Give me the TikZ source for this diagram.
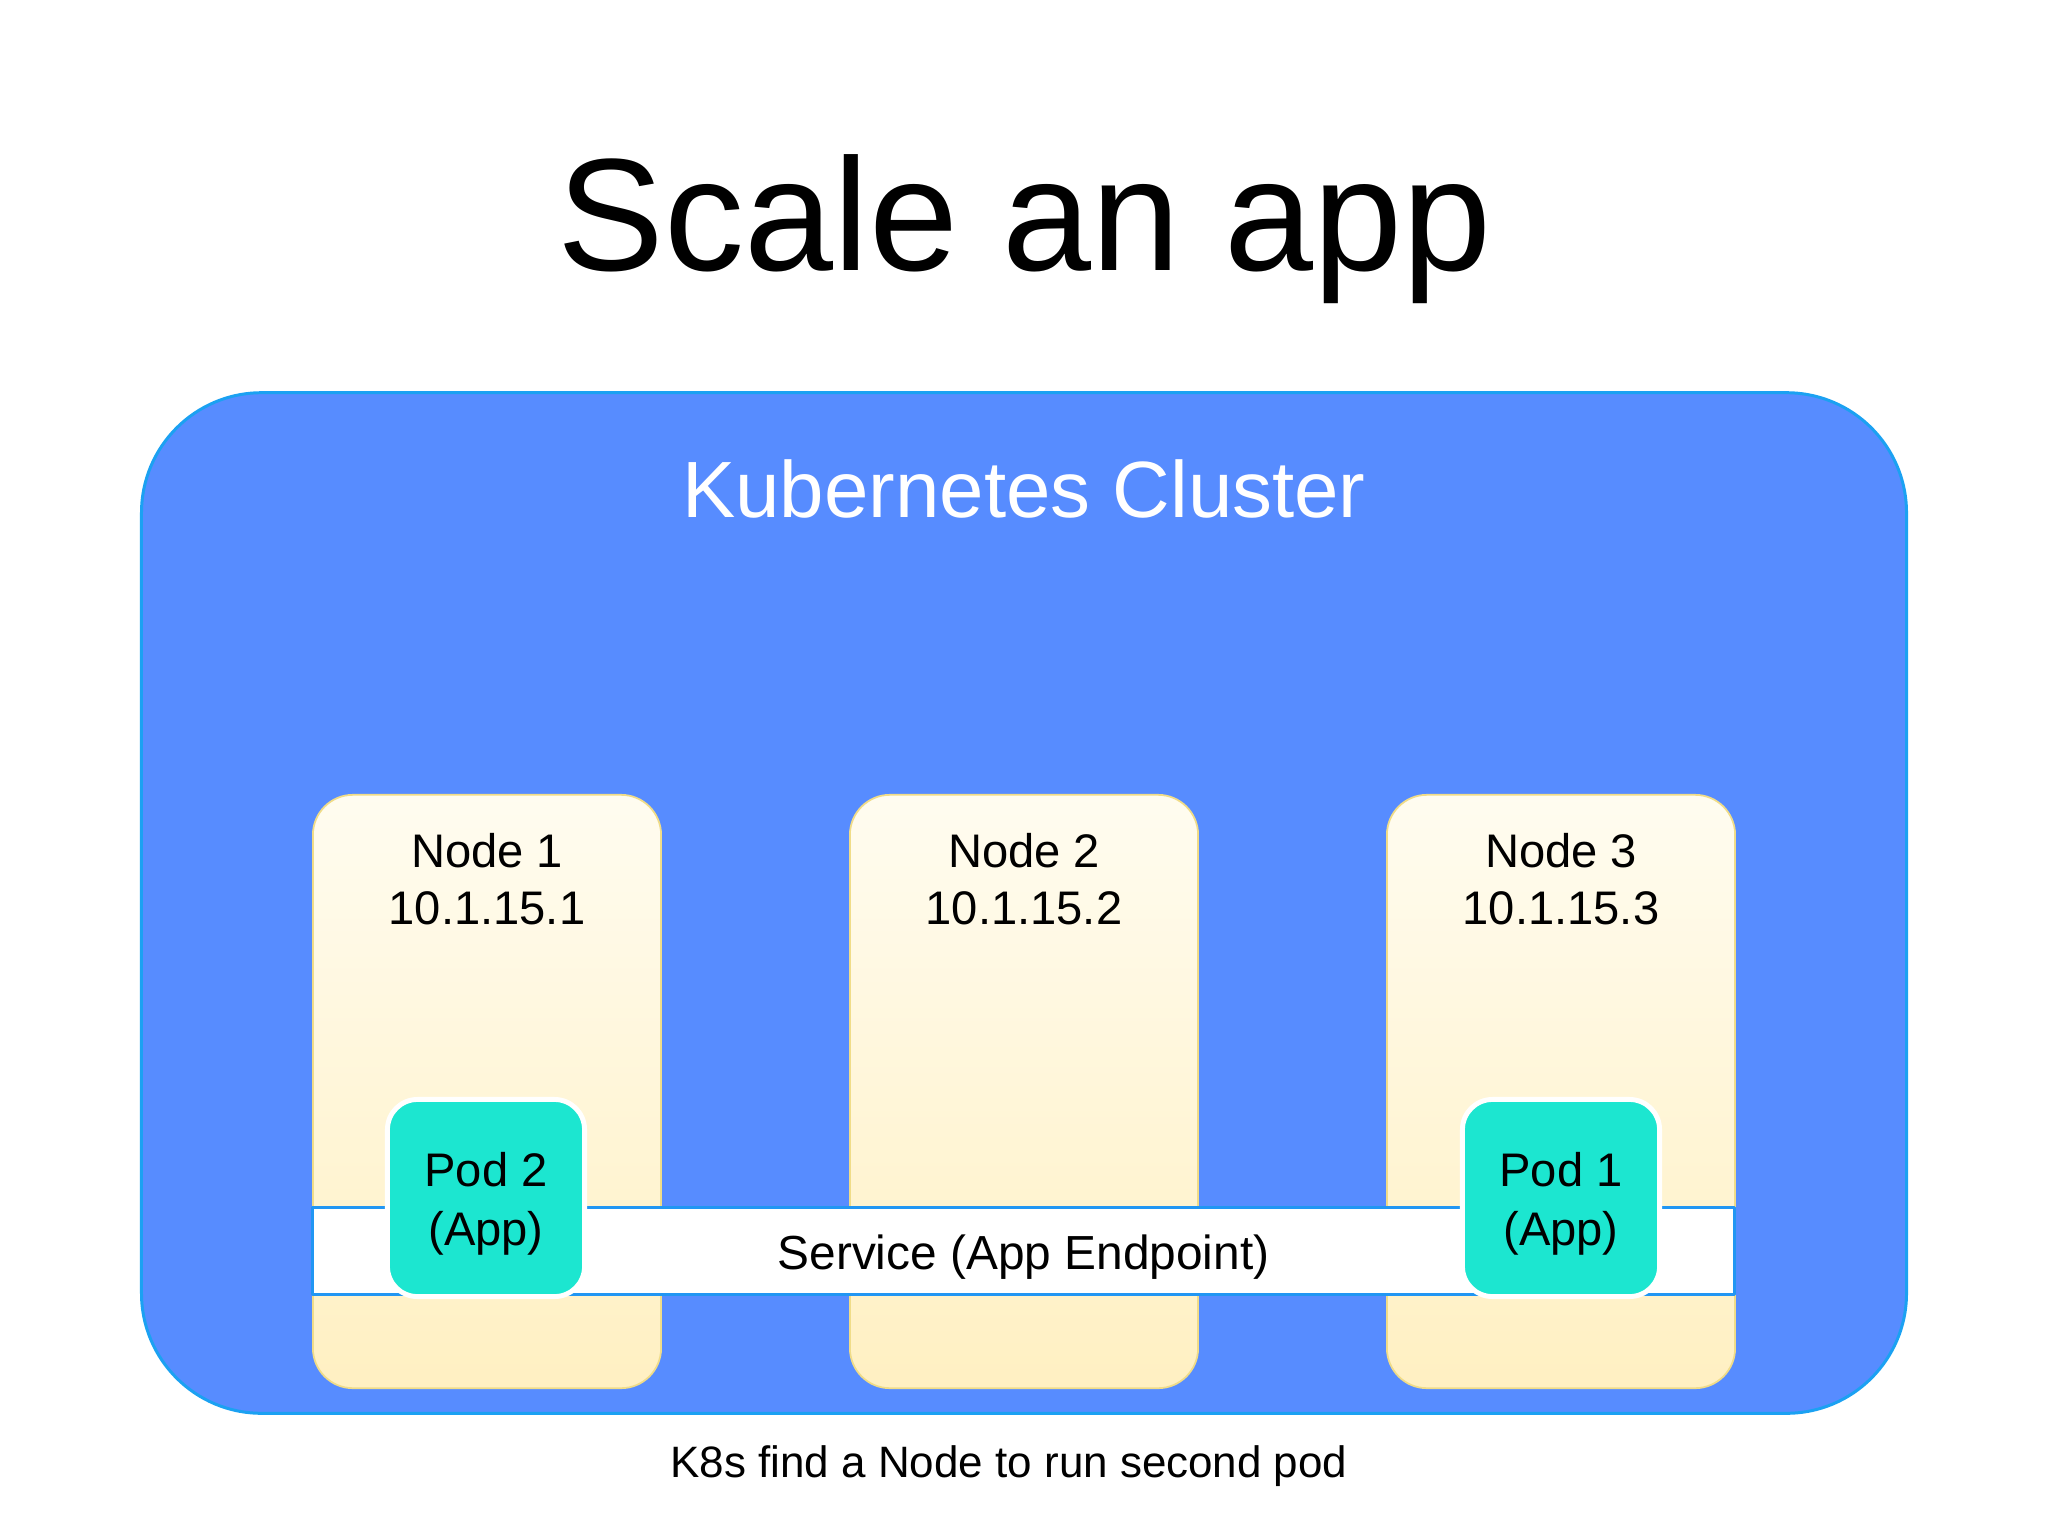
\documentclass[tikz,border=0pt]{standalone}
\usepackage{fontspec}
\setmainfont{Liberation Sans}
\usetikzlibrary{positioning}
\definecolor{clusterblue}{HTML}{578CFF}
\definecolor{clusteredge}{HTML}{1BA1F2}
\definecolor{workertop}{HTML}{FFFCF0}
\definecolor{workerbottom}{HTML}{FFF0C2}
\definecolor{workeredge}{HTML}{F0DC88}
\definecolor{podteal}{HTML}{1CE6D0}
\definecolor{svcedge}{HTML}{2196F3}
\tikzset{
  cluster/.style={draw=clusteredge,fill=clusterblue,line width=0.85pt,
    rounded corners=1.2cm,minimum width=17.64cm,minimum height=10.2cm},
  worker/.style={draw=workeredge,top color=workertop,bottom color=workerbottom,
    line width=0.5pt,rounded corners=0.4cm,minimum width=3.48cm,minimum height=5.93cm},
  workerlabel/.style={align=center,inner sep=0pt,
    font=\fontsize{13.4}{16.2}\selectfont},
  pod/.style={draw=white,fill=podteal,line width=1.4pt,rounded corners=0.3cm,
    minimum size=1.97cm,align=center,inner sep=0pt,text height=1.05cm,
    font=\fontsize{13.4}{16.7}\selectfont},
  service/.style={draw=svcedge,fill=white,line width=0.85pt,
    minimum width=14.21cm,minimum height=0.86cm,inner sep=0pt,
    text height=1.21em,text depth=0.17em,font=\fontsize{13.6}{16}\selectfont}
}
\begin{document}
\begin{tikzpicture}[x=0.01cm,y=-0.01cm,line join=round]
  \useasboundingbox (0,0) rectangle (2048,1536);
  \node[anchor=base,font=\fontsize{45.5}{55}\selectfont] (title) at (1025,270) {Scale an app};
  \node[cluster] (cluster) at (1024,903) {};
  \node[below=0.68cm of cluster.north,inner sep=0pt,text=white,
    font=\fontsize{22.7}{27}\selectfont] (clustername) {Kubernetes Cluster};
  % worker nodes
  \foreach \i/\x in {1/487,2/1024,3/1561} {
    \node[worker] (worker\i) at (\x,1091.5) {};
    \node[workerlabel,below=0.39cm of worker\i.north] (workerlabel\i) {Node \i\\10.1.15.\i};
  }
  \node[service] (svc) at (1023.5,1251) {Service (App Endpoint)};
  \node[pod] (pod2) at (486,1198) {Pod 2\\(App)};
  \node[pod] (pod1) at (1561,1198) {Pod 1\\(App)};
  \node[anchor=base,font=\fontsize{12.5}{15}\selectfont] (caption) at (1009,1477)
    {K8s find a Node to run second pod};
\end{tikzpicture}
\end{document}
